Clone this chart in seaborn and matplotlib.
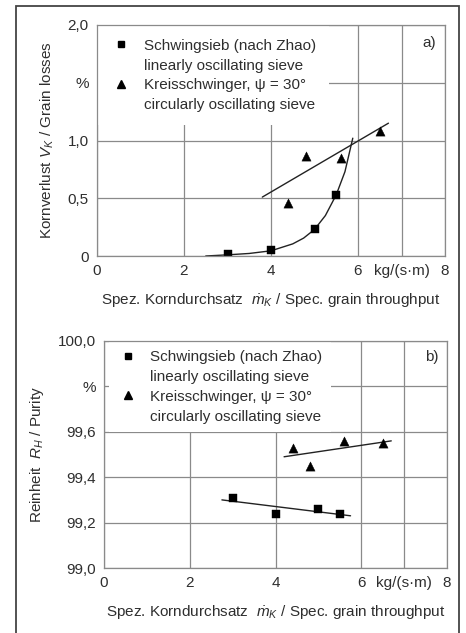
import matplotlib
matplotlib.use("Agg")
import matplotlib.pyplot as plt
from matplotlib.patches import Rectangle
from matplotlib.lines import Line2D
import seaborn as sns
import pandas as pd

# ---------------- data ----------------
throughput_sq = [3.0, 4.0, 5.0, 5.5]
loss_sq = [0.02, 0.05, 0.23, 0.53]
throughput_tri = [4.4, 4.8, 5.6, 6.5]
loss_tri = [0.46, 0.87, 0.85, 1.08]

purity_sq = [99.31, 99.24, 99.26, 99.24]
purity_tri = [99.53, 99.45, 99.56, 99.55]

# fitted curves
loss_sq_fit_x = [2.5, 3.0, 3.5, 4.0, 4.5, 4.75, 5.0, 5.25, 5.5, 5.7, 5.88]
loss_sq_fit_y = [0.0, 0.01, 0.022, 0.045, 0.105, 0.155, 0.23, 0.35, 0.53, 0.73, 1.02]
loss_tri_fit_x = [3.8, 6.7]
loss_tri_fit_y = [0.51, 1.15]
purity_sq_fit_x = [2.75, 5.75]
purity_sq_fit_y = [99.30, 99.23]
purity_tri_fit_x = [4.2, 6.7]
purity_tri_fit_y = [99.49, 99.56]

x_ticks = [0, 2, 4, 6, 7, 8]
x_ticklabels = ["0", "2", "4", "6", "kg/(s·m)", "8"]
loss_ticks = [0, 0.5, 1.0, 1.5, 2.0]
loss_ticklabels = ["0", "0,5", "1,0", "%", "2,0"]
purity_ticks = [99.0, 99.2, 99.4, 99.6, 99.8, 100.0]
purity_ticklabels = ["99,0", "99,2", "99,4", "99,6", "%", "100,0"]

legend_labels = ["Schwingsieb (nach Zhao)", "linearly oscillating sieve",
                 "Kreisschwinger, ψ = 30°", "circularly oscillating sieve"]

# ---------------- style ----------------
sns.set_theme(style="white")
plt.rcParams["font.family"] = ["Liberation Sans", "DejaVu Sans"]
plt.rcParams["mathtext.fontset"] = "custom"
plt.rcParams["mathtext.rm"] = "Liberation Sans"
plt.rcParams["mathtext.it"] = "Liberation Sans:italic"
TXT = "#2e2e2e"
GRID = "#8a8a8a"
FS = 11

fig = plt.figure(figsize=(4.66, 6.33), dpi=100)
fig.patch.set_facecolor("white")

W, H = 466, 633
def ax_rect(l, t, r, b):
    return [l / W, 1 - b / H, (r - l) / W, (b - t) / H]

ax1 = fig.add_axes(ax_rect(97, 25, 445, 256))
ax2 = fig.add_axes(ax_rect(104, 341, 447, 568))

kind_sq, kind_tri = "sq", "tri"
df_loss = pd.DataFrame({
    "x": throughput_sq + throughput_tri,
    "y": loss_sq + loss_tri,
    "kind": [kind_sq] * len(throughput_sq) + [kind_tri] * len(throughput_tri),
})
df_pur = pd.DataFrame({
    "x": throughput_sq + throughput_tri,
    "y": purity_sq + purity_tri,
    "kind": [kind_sq] * len(throughput_sq) + [kind_tri] * len(throughput_tri),
})

markers = {kind_sq: "s", kind_tri: "^"}
sizes = {kind_sq: 36, kind_tri: 44}

def setup(ax, yticks, yticklabels, ylim, ylabel, panel, panel_xy):
    ax.set_xlim(0, 8)
    ax.set_ylim(*ylim)
    ax.set_xticks(x_ticks)
    ax.set_xticklabels(x_ticklabels)
    ax.set_yticks(yticks)
    ax.set_yticklabels(yticklabels)
    ax.grid(True, color=GRID, linewidth=0.9)
    ax.set_axisbelow(True)
    for s in ax.spines.values():
        s.set_color(GRID)
        s.set_linewidth(0.9)
        s.set_zorder(6)
    ax.tick_params(axis="both", labelsize=FS, colors=GRID, labelcolor=TXT,
                   length=3, width=0.8, direction="out", pad=3)
    ax.set_ylabel(ylabel, fontsize=FS, color=TXT, labelpad=8)
    ax.set_xlabel("Spez. Korndurchsatz  $\\dot{m}_{K}$ / Spec. grain throughput",
                  fontsize=FS, color=TXT, labelpad=9)
    ax.text(panel_xy[0], panel_xy[1], panel, transform=ax.transAxes,
            ha="right", va="center", fontsize=FS, color=TXT)

for ax, df, sqfit, trifit in [
    (ax1, df_loss, (loss_sq_fit_x, loss_sq_fit_y), (loss_tri_fit_x, loss_tri_fit_y)),
    (ax2, df_pur, (purity_sq_fit_x, purity_sq_fit_y), (purity_tri_fit_x, purity_tri_fit_y)),
]:
    sns.lineplot(x=sqfit[0], y=sqfit[1], ax=ax, color="#222222", linewidth=1.0,
                 sort=False, estimator=None, zorder=3)
    sns.lineplot(x=trifit[0], y=trifit[1], ax=ax, color="#222222", linewidth=1.0,
                 sort=False, estimator=None, zorder=3)
    for kind in (kind_sq, kind_tri):
        sub = df[df["kind"] == kind]
        sns.scatterplot(data=sub, x="x", y="y", marker=markers[kind],
                        color="black", s=sizes[kind], edgecolor="black",
                        linewidth=0.3, ax=ax, zorder=4, legend=False)

setup(ax1, loss_ticks, loss_ticklabels, (0, 2.0),
      "Kornverlust $V_{K}$ / Grain losses", "a)", (0.975, 0.92))
setup(ax2, purity_ticks, purity_ticklabels, (99.0, 100.0),
      "Reinheit  $R_{H}$ / Purity", "b)", (0.975, 0.93))

blank = Line2D([], [], linestyle="none", marker=None)
handles = [
    Line2D([], [], marker="s", color="black", linestyle="none", markersize=5),
    blank,
    Line2D([], [], marker="^", color="black", linestyle="none", markersize=6),
    blank,
]
for ax, pad, xoff in ((ax1, 0.85, 0.0), (ax2, 0.55, 0.012)):
    leg = ax.legend(handles, legend_labels, loc="upper left",
                    bbox_to_anchor=(xoff, 1.0), frameon=True, fontsize=FS,
                    handlelength=1.4, handletextpad=0.75, labelspacing=0.38,
                    borderpad=pad, borderaxespad=0.05, fancybox=False)
    leg.get_frame().set_facecolor("white")
    leg.get_frame().set_edgecolor("none")
    leg.get_frame().set_alpha(1)
    for t in leg.get_texts():
        t.set_color(TXT)

fig.patches.append(Rectangle((16 / W, -0.02), (459 - 16) / W, 1 - 6 / H + 0.02,
                             transform=fig.transFigure, fill=False,
                             edgecolor="#444444", linewidth=1.3))

fig.savefig("out.png", dpi=100, facecolor="white")
